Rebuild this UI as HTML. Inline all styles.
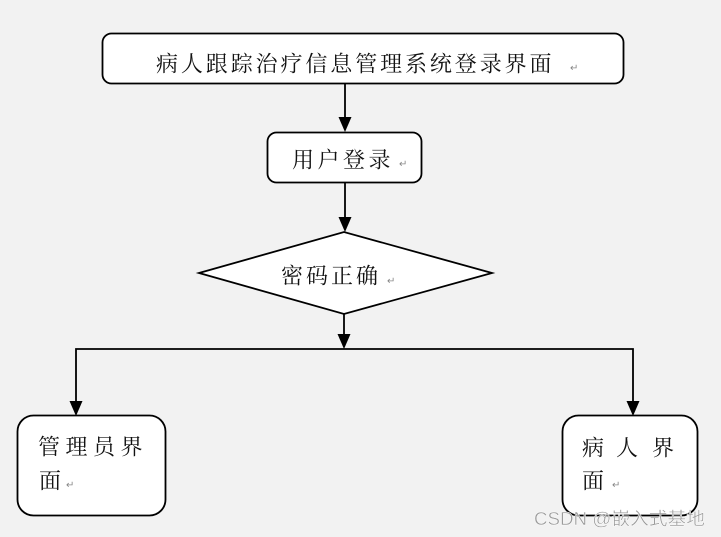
<!DOCTYPE html>
<html><head><meta charset="utf-8"><style>
html,body{margin:0;padding:0;background:#f2f2f2;}
svg{display:block;}
text{font-family:"Liberation Serif","Noto Serif CJK SC",serif;}
</style></head><body>
<svg width="721" height="537" viewBox="0 0 721 537" xmlns="http://www.w3.org/2000/svg">
<rect x="0" y="0" width="721" height="537" fill="#f2f2f2"/>
<g stroke="#000" stroke-width="1.8" fill="#fff">
<rect x="102.5" y="33.5" width="521" height="50" rx="9"/>
<rect x="267.5" y="132.5" width="154" height="50" rx="9"/>
<polygon points="199,273 344,232 492,273 344,314"/>
<rect x="17.5" y="415.5" width="148" height="100" rx="16"/>
<rect x="562.5" y="415.5" width="135" height="100" rx="16"/>
</g>
<g stroke="#000" stroke-width="1.8" fill="none">
<line x1="345" y1="83" x2="345" y2="120"/>
<line x1="345" y1="183" x2="345" y2="220"/>
<line x1="344" y1="314" x2="344" y2="336"/>
<polyline points="76,405 76,349 633,349 633,405"/>
</g>
<g fill="#000">
<polygon points="338.5,117 351.5,117 345,132"/>
<polygon points="338.5,217 351.5,217 345,232"/>
<polygon points="337.5,334 350.5,334 344,349"/>
<polygon points="69.5,401 82.5,401 76,416"/>
<polygon points="626.5,401 639.5,401 633,416"/>
</g>
<g font-size="22" fill="#111" dominant-baseline="central">
<text y="64" x="156 180.9 205.8 230.7 255.6 280.5 305.4 330.3 355.2 380.1 405 429.9 454.8 479.7 504.6 529.5">病人跟踪治疗信息管理系统登录界面</text>
<text y="160" x="292 317.5 343 368.5">用户登录</text>
<text y="276" x="281 306 331 356">密码正确</text>
<text y="447" x="38 65.5 93 120.5">管理员界</text>
<text y="481" x="39">面</text>
<text y="448" x="582 616 652">病人界</text>
<text y="481" x="582">面</text>
</g>
<g font-size="10" fill="#888" font-family="'DejaVu Sans',sans-serif">
<text x="570" y="71">↵</text>
<text x="399" y="167">↵</text>
<text x="387" y="284">↵</text>
<text x="66" y="488">↵</text>
<text x="612" y="488">↵</text>
</g>
<text x="534" y="525" font-size="18" textLength="171" lengthAdjust="spacingAndGlyphs" fill="#9a9a9a" stroke="#fff" stroke-width="0.4" style="font-family:'Liberation Sans','Noto Sans CJK SC',sans-serif">CSDN @嵌入式基地</text>
</svg>
</body></html>
